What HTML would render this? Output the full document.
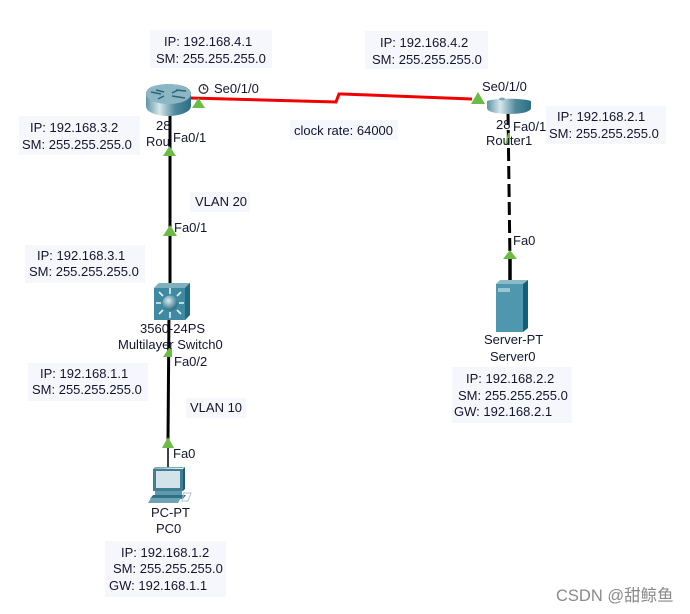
<!DOCTYPE html>
<html><head><meta charset="utf-8"><style>
html,body{margin:0;padding:0;background:#fff;width:690px;height:614px;overflow:hidden}
svg{display:block}
text{font-family:"Liberation Sans","Noto Sans CJK SC",sans-serif;font-size:13px;fill:#14142e}
</style></head><body>
<svg width="690" height="614" viewBox="0 0 690 614" xmlns="http://www.w3.org/2000/svg">
<defs>
<linearGradient id="rb" x1="0" x2="1" y1="0" y2="0"><stop offset="0" stop-color="#5e93a5"/><stop offset=".3" stop-color="#d6e8ec"/><stop offset=".65" stop-color="#4f8a9c"/><stop offset="1" stop-color="#2d6e82"/></linearGradient>
<radialGradient id="ball" cx=".4" cy=".35" r=".7"><stop offset="0" stop-color="#d8eef2"/><stop offset="1" stop-color="#1f6379"/></radialGradient>
</defs>
<!-- label boxes -->
<g fill="#f6f7fd">
<rect x="150" y="30" width="122" height="38"/>
<rect x="365" y="31" width="123" height="38"/>
<rect x="19" y="116" width="121" height="39"/>
<rect x="25" y="245" width="120" height="38"/>
<rect x="28" y="363" width="120" height="38"/>
<rect x="105" y="541" width="121" height="56"/>
<rect x="452" y="367" width="120" height="56"/>
<rect x="546" y="106" width="120" height="38"/>
<rect x="290" y="120" width="108" height="20"/>
<rect x="190" y="192" width="60" height="20"/>
<rect x="186" y="398" width="60" height="20"/>
</g>
<!-- links -->
<path d="M190 98 L336 102 L339 94 L342 94 L472 99" fill="none" stroke="#f00000" stroke-width="3"/>
<path d="M170 110 L170 312" stroke="#000" stroke-width="3" fill="none"/>
<path d="M169 312 L168 440" stroke="#000" stroke-width="3" fill="none"/>
<path d="M168 440 L168 467" stroke="#000" stroke-width="1.5" fill="none"/>
<path d="M508 112 L510 262" stroke="#000" stroke-width="3" stroke-dasharray="13 5" fill="none"/>
<path d="M510 258 L510 281" stroke="#000" stroke-width="3.5" fill="none"/>
<!-- router 0 -->
<path d="M146 94 C146 87 156 84 167 84 C180 84 191 87 191 94 L191 106 C191 112 180 116 168 116 C156 116 146 112 146 106 Z" fill="url(#rb)"/>
<ellipse cx="168.500" cy="94" rx="22.500" ry="10" fill="#8db6c5"/>
<path d="M151 92 L161 94 M176 90 L186 91 M158 99 L164 96 M172 93 L178 90 M172 96 L185 98 M156 90 L164 92" stroke="#2b6578" stroke-width="1.500" fill="none"/>
<!-- router 1 -->
<path d="M487 101 C495 98 523 98 531 101 L531 108 C531 112 521 114 509 114 C497 114 487 112 487 108 Z" fill="url(#rb)"/>
<ellipse cx="502" cy="99" rx="3" ry="1.500" fill="#7ba9b8"/>
<!-- switch -->
<path d="M154 288 L159 283 L190 283 L190 315 L185 320 L154 320 Z" fill="#3f8aa1"/>
<path d="M185 288 L190 283 L190 315 L185 320 Z" fill="#1f6a80"/>
<path d="M154 288 L159 283 L190 283 L185 288 Z" fill="#7fb0c0"/>
<circle cx="170" cy="303" r="7.500" fill="url(#ball)"/>
<path d="M170 294 V288 M170 312 V318 M161 303 H156 M179 303 H184 M163 296 L159 292 M177 296 L181 292 M163 310 L159 314 M177 310 L181 314" stroke="#e6f3f6" stroke-width="1.600" fill="none"/>
<!-- PC -->
<path d="M153 469 L183 468 L185 467 L155 467 Z" fill="#7fa9b8"/>
<rect x="153" y="469" width="30" height="22" fill="#3f7f95"/>
<rect x="156" y="471" width="24" height="17" fill="#d4e3ea"/>
<path d="M183 469 L185 467 L185 489 L183 491 Z" fill="#205a70"/>
<rect x="155" y="491" width="27" height="4" fill="#5e99ac"/>
<path d="M153 495 L186 495 L183 499 L150 499 Z" fill="#2f7288"/>
<path d="M151 498 L181 498 L178 503 L148 503 Z" fill="#6ea3b5"/>
<path d="M184 493 L191 493 L188 501 L182 501 Z" fill="none" stroke="#a9c3cc"/>
<!-- server -->
<path d="M496 284 L500 280 L528 280 L523 284 Z" fill="#8dbac8"/>
<path d="M523 284 L528 280 L528 328 L523 332 Z" fill="#0f6078"/>
<rect x="496" y="284" width="27" height="48" fill="#4f97ae"/>
<rect x="498" y="288" width="12" height="4" fill="#9cc5d2"/>
<!-- green triangles -->
<g fill="#6cbb45">
<path d="M192 108 L205 108 L198.500 98 Z"/>
<path d="M163 156 L176 156 L169.500 146 Z"/>
<path d="M163 236 L177 236 L170 225 Z"/>
<path d="M163 357 L172 357 L172 348 L169 348 Z"/>
<path d="M162 448 L174 448 L168 437 Z"/>
<path d="M471 104 L485 104 L478 92 Z"/>
<path d="M505 145 L510 145 L510 133 L508 133 Z"/>
<path d="M503 259 L517 259 L510 250 Z"/>
</g>
<!-- clock -->
<circle cx="203.500" cy="89" r="4.300" fill="#fff" stroke="#333" stroke-width="1.300"/>
<path d="M203.500 86.500 V89 H206" stroke="#333" fill="none"/>
<!-- labels -->
<text x="164" y="46">IP: 192.168.4.1</text>
<text x="156" y="63">SM: 255.255.255.0</text>
<text x="380" y="47">IP: 192.168.4.2</text>
<text x="372" y="64">SM: 255.255.255.0</text>
<text x="214" y="93">Se0/1/0</text>
<text x="482" y="91">Se0/1/0</text>
<text x="294" y="135">clock rate: 64000</text>
<text x="30" y="132">IP: 192.168.3.2</text>
<text x="22" y="149">SM: 255.255.255.0</text>
<text x="557" y="121">IP: 192.168.2.1</text>
<text x="549" y="138">SM: 255.255.255.0</text>
<text x="156" y="130">28</text>
<text x="146" y="146">Rou</text>
<text x="173" y="142">Fa0/1</text>
<text x="496" y="129">28</text>
<text x="513" y="131">Fa0/1</text>
<text x="486" y="145">Router1</text>
<text x="195" y="206">VLAN 20</text>
<text x="174" y="232">Fa0/1</text>
<text x="37" y="260">IP: 192.168.3.1</text>
<text x="29" y="276">SM: 255.255.255.0</text>
<text x="140" y="333">3560-24PS</text>
<text x="118" y="349">Multilayer Switch0</text>
<text x="174" y="366">Fa0/2</text>
<text x="40" y="378">IP: 192.168.1.1</text>
<text x="32" y="394">SM: 255.255.255.0</text>
<text x="190" y="412">VLAN 10</text>
<text x="173" y="458">Fa0</text>
<text x="151" y="517">PC-PT</text>
<text x="156" y="533">PC0</text>
<text x="121" y="557">IP: 192.168.1.2</text>
<text x="113" y="573">SM: 255.255.255.0</text>
<text x="109" y="590">GW: 192.168.1.1</text>
<text x="513" y="245">Fa0</text>
<text x="484" y="344">Server-PT</text>
<text x="490" y="361">Server0</text>
<text x="466" y="383">IP: 192.168.2.2</text>
<text x="458" y="400">SM: 255.255.255.0</text>
<text x="454" y="416">GW: 192.168.2.1</text>
<text x="556" y="601" style="font-size:16.500px;fill:#8a8a8a">CSDN @甜鲸鱼</text>
</svg>
</body></html>
